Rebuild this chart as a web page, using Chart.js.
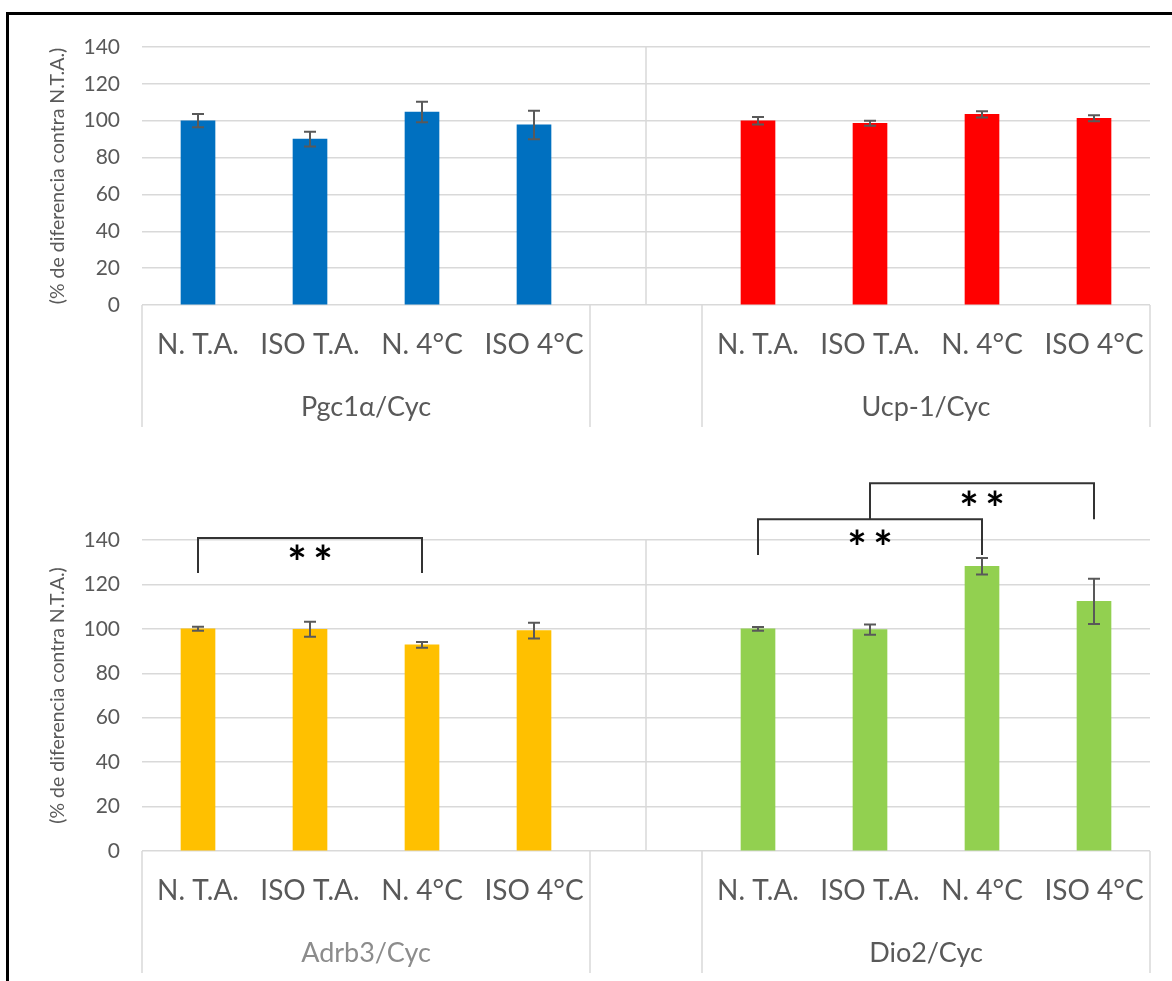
<!DOCTYPE html>
<html><head><meta charset="utf-8">
<script src="https://cdn.jsdelivr.net/npm/chart.js@4.4.1/dist/chart.umd.min.js"></script>
<style>
html,body{margin:0;padding:0;background:#fff;width:1172px;height:981px;overflow:hidden;}
#frame{position:absolute;left:6px;top:12px;width:1200px;height:1000px;border-top:3px solid #000;border-left:3px solid #000;pointer-events:none;}
.wrap{position:absolute;left:0;width:1172px;}
</style></head><body>
<div class="wrap" style="top:0;height:440px"><canvas id="c1" width="1172" height="440"></canvas></div>
<div class="wrap" style="top:440px;height:541px"><canvas id="c2" width="1172" height="541"></canvas></div>
<div id="frame"></div>
<script>
// ---- data ----
const conditions = ['N. T.A.', 'ISO T.A.', 'N. 4°C', 'ISO 4°C'];
const yMin = 0, yMax = 140, yStep = 20;
const yTitle = '(% de diferencia contra N.T.A.)';

const topGroups = ['Pgc1α/Cyc', 'Ucp-1/Cyc'];
const pgc1aValues = [100, 90.0, 104.7, 97.7];
const pgc1aErrors = [3.6, 4.0, 5.6, 7.7];
const ucp1Values = [100, 98.6, 103.4, 101.3];
const ucp1Errors = [2.0, 1.4, 1.7, 1.6];

const bottomGroups = ['Adrb3/Cyc', 'Dio2/Cyc'];
const adrb3Values = [100, 99.8, 92.8, 99.2];
const adrb3Errors = [0.9, 3.4, 1.3, 3.5];
const dio2Values = [100, 99.7, 128.2, 112.4];
const dio2Errors = [0.8, 2.3, 3.7, 10.2];

// significance brackets: [fromCategory, toCategory, barTopValue, legEndValue, starValue, stars]
const bottomBrackets = [
  [0, 2, 140.9, 125.1, 134.6, 2],
  [5, 7, 149.3, 133.2, 141.5, 2],
  [6, 8, 165.5, 149.3, 158.9, 2]
];

// ---- build ----
const labels = [...conditions, '', ...conditions];
const pad = (vals, side) => side === 0 ? [...vals, null, null, null, null, null] : [null, null, null, null, null, ...vals];

const FONT = 'Lato';
const TXT = '#595959';
const GRID = '#d9d9d9';

function ds(vals, errs, side, color) {
  return { data: pad(vals, side), errorBars: pad(errs, side), backgroundColor: color,
    borderWidth: 0, grouped: false, barThickness: 34 };
}

const annot = {
  id: 'annot',
  afterDatasetsDraw(chart) {
    const { ctx, chartArea: ca, scales: { x, y } } = chart;
    ctx.save();
    ctx.strokeStyle = GRID; ctx.lineWidth = 1.5;
    ctx.beginPath();
    ctx.moveTo(x.getPixelForValue(4), ca.top); ctx.lineTo(x.getPixelForValue(4), ca.bottom);
    ctx.stroke();
    ctx.strokeStyle = '#595959'; ctx.lineWidth = 2;
    chart.data.datasets.forEach((d, di) => {
      const meta = chart.getDatasetMeta(di);
      d.data.forEach((v, i) => {
        if (v === null) return;
        const e = d.errorBars[i];
        const bx = meta.data[i].x;
        const yt = y.getPixelForValue(v + e), yb = y.getPixelForValue(v - e);
        ctx.beginPath();
        ctx.moveTo(bx, yt); ctx.lineTo(bx, yb);
        ctx.moveTo(bx - 6, yt); ctx.lineTo(bx + 6, yt);
        ctx.moveTo(bx - 6, yb); ctx.lineTo(bx + 6, yb);
        ctx.stroke();
      });
    });
    ctx.restore();
  },
  afterDraw(chart, args, opts) {
    const { ctx, chartArea: ca, scales: { x, y } } = chart;
    const half = (x.getPixelForValue(1) - x.getPixelForValue(0)) / 2;
    ctx.save();
    ctx.strokeStyle = GRID; ctx.lineWidth = 1.5;
    const bounds = [x.getPixelForValue(0) - half, x.getPixelForValue(3) + half, x.getPixelForValue(5) - half, x.getPixelForValue(8) + half];
    ctx.beginPath();
    bounds.forEach(b => { ctx.moveTo(b, ca.bottom); ctx.lineTo(b, ca.bottom + 122); });
    ctx.stroke();
    ctx.fillStyle = TXT; ctx.textAlign = 'center'; ctx.textBaseline = 'middle';
    ctx.font = '28px ' + FONT;
    chart.data.labels.forEach((l, i) => { if (l) ctx.fillText(l, x.getPixelForValue(i), ca.bottom + 40); });
    ctx.font = '27px ' + FONT;
    opts.groups.forEach((g, gi) => {
      const s = gi === 0 ? 0 : 5;
      const cx = (x.getPixelForValue(s) + x.getPixelForValue(s + 3)) / 2;
      ctx.fillStyle = opts.groupColors[gi];
      ctx.fillText(g, cx, ca.bottom + 102);
    });
    (opts.brackets || []).forEach(b => {
      const x1 = x.getPixelForValue(b[0]), x2 = x.getPixelForValue(b[1]);
      const yt = y.getPixelForValue(b[2]), yl = y.getPixelForValue(b[3]);
      ctx.strokeStyle = '#333333'; ctx.lineWidth = 2;
      ctx.beginPath();
      ctx.moveTo(x1, yl); ctx.lineTo(x1, yt); ctx.lineTo(x2, yt); ctx.lineTo(x2, yl);
      ctx.stroke();
      ctx.fillStyle = '#000';
      ctx.font = 'bold 46px ' + FONT;
      ctx.textBaseline = 'alphabetic';
      const m = ctx.measureText('*');
      const off = (m.actualBoundingBoxAscent - m.actualBoundingBoxDescent) / 2;
      const cx = (x1 + x2) / 2, cy = y.getPixelForValue(b[4]) + off;
      for (let k = 0; k < b[5]; k++) {
        ctx.fillText('*', cx + (k - (b[5] - 1) / 2) * 26, cy);
      }
    });
    ctx.restore();
  }
};

function makeChart(id, datasets, groups, groupColors, brackets, padTop, padBottom) {
  return new Chart(document.getElementById(id), {
    type: 'bar',
    data: { labels, datasets },
    plugins: [annot],
    options: {
      responsive: false, animation: false,
      layout: { padding: { left: 46, right: 22, top: padTop, bottom: padBottom } },
      plugins: { legend: { display: false }, tooltip: { enabled: false },
        annot: { groups, groupColors, brackets } },
      scales: {
        x: { display: false, offset: true },
        y: {
          min: yMin, max: yMax,
          ticks: { stepSize: yStep, color: TXT, padding: 22, font: { family: FONT, size: 21 } },
          grid: { color: GRID, lineWidth: 1.5, drawTicks: false },
          border: { display: false },
          title: { display: true, text: yTitle, color: TXT, padding: 0, font: { family: FONT, size: 19.5 } },
          afterFit: s => { s.width = 96; }
        }
      }
    }
  });
}

makeChart('c1', [ds(pgc1aValues, pgc1aErrors, 0, '#0070C0'), ds(ucp1Values, ucp1Errors, 1, '#FF0000')],
  topGroups, ['#595959', '#595959'], [], 47, 135);
makeChart('c2', [ds(adrb3Values, adrb3Errors, 0, '#FFC000'), ds(dio2Values, dio2Errors, 1, '#92D050')],
  bottomGroups, ['#8c8c8c', '#595959'], bottomBrackets, 100, 130);
</script>
</body></html>
